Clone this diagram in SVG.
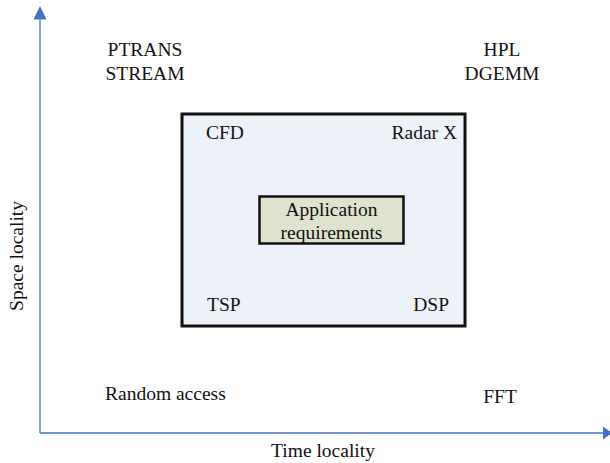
<svg xmlns="http://www.w3.org/2000/svg" width="610" height="463" viewBox="0 0 610 463">
<style>
text{font-family:"Liberation Serif","Times New Roman",serif;font-size:19.5px;fill:#111}
.axis{stroke:#4472c4;stroke-width:1.3;fill:none}
</style>
<rect width="610" height="463" fill="#fff"/>
<g id="connectors">
<line class="axis" x1="40" y1="433" x2="40" y2="20"/>
<path d="M40,6 L46.5,19.5 L33.5,19.5 Z" fill="#4472c4"/>
<line class="axis" x1="40" y1="433" x2="603" y2="433"/>
<path d="M612,433 L603,426.5 L603,439.5 Z" fill="#4472c4"/>
</g>
<g id="outer-box">
<rect x="182" y="114" width="283" height="212" fill="#edf1f8" stroke="#111" stroke-width="3"/>
</g>
<g id="app-req">
<rect x="259.5" y="196.5" width="144" height="47" fill="#dfe3cd" stroke="#111" stroke-width="2.5"/>
<text x="331.5" y="216" text-anchor="middle">Application</text>
<text x="331.5" y="239" text-anchor="middle">requirements</text>
</g>
<g id="ptrans"><text x="145" y="56" text-anchor="middle">PTRANS</text><text x="145" y="80" text-anchor="middle">STREAM</text></g>
<g id="hpl"><text x="502" y="56" text-anchor="middle">HPL</text><text x="502" y="80" text-anchor="middle">DGEMM</text></g>
<g id="cfd"><text x="206" y="139">CFD</text></g>
<g id="radar"><text x="457" y="139" text-anchor="end">Radar X</text></g>
<g id="tsp"><text x="207" y="311">TSP</text></g>
<g id="dsp"><text x="449" y="311" text-anchor="end">DSP</text></g>
<g id="random"><text x="105" y="400">Random access</text></g>
<g id="fft"><text x="500" y="403" text-anchor="middle">FFT</text></g>
<g id="xlabel"><text x="323" y="457" text-anchor="middle">Time locality</text></g>
<g id="ylabel"><text transform="translate(23,256) rotate(-90)" text-anchor="middle">Space locality</text></g>
</svg>
